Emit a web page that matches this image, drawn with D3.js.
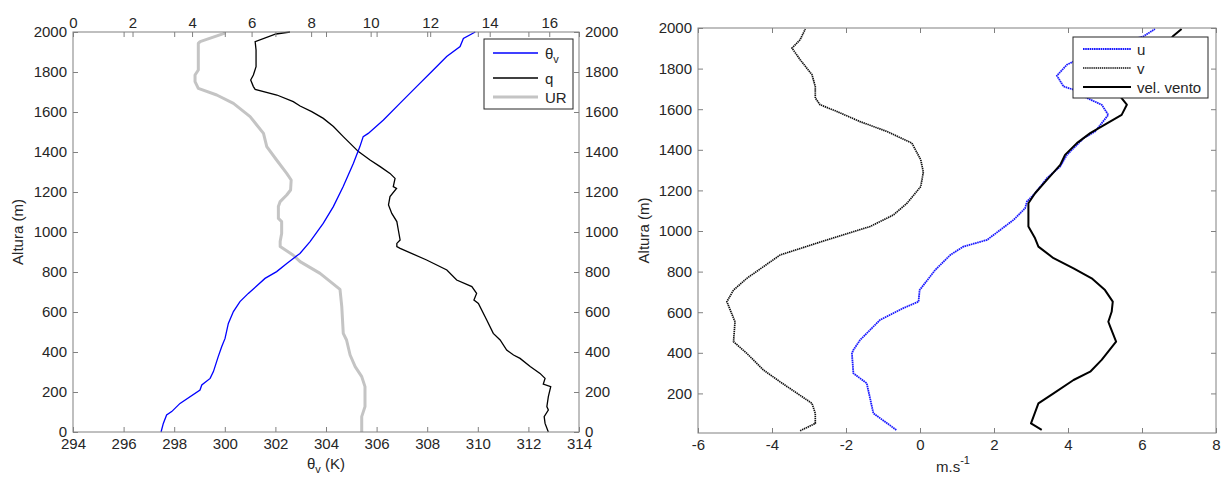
<!DOCTYPE html>
<html>
<head>
<meta charset="utf-8">
<script src="https://cdn.jsdelivr.net/npm/d3@7"></script>
<style>
  body { margin: 0; background: #fff; }
  svg { display: block; font-family: "Liberation Sans", Arial, sans-serif; }
  .tick text { fill: #262626; font-size: 15px; }
  .tick line { stroke: #808080; }
</style>
</head>
<body>
<svg id="chart" width="1221" height="477"></svg>
<script>
// [altitude m, value]
const thetaV = [[0,297.48],[43,297.57],[85,297.70],[102,297.90],[143,298.23],[210,299.02],[235,299.09],[268,299.42],[302,299.55],[377,299.74],[427,299.88],[468,300.01],[543,300.14],[602,300.34],[652,300.60],[693,300.93],[768,301.59],[802,302.05],[843,302.45],[893,302.97],[952,303.37],[1043,303.89],[1127,304.29],[1227,304.68],[1343,305.08],[1427,305.34],[1477,305.47],[1493,305.67],[1560,306.27],[1643,306.92],[1727,307.58],[1810,308.24],[1877,308.77],[1927,309.30],[1968,309.43],[2000,309.9]];
const q = [[0,15.97],[43,15.86],[77,15.83],[110,15.97],[127,15.92],[177,15.97],[227,16.05],[240,15.80],[268,15.86],[293,15.69],[327,15.36],[368,15.02],[385,14.80],[410,14.57],[460,14.35],[493,14.12],[560,13.90],[643,13.62],[660,13.47],[693,13.56],[727,13.40],[760,12.89],[810,12.56],[860,11.88],[918,10.99],[927,10.88],[943,10.88],[960,10.99],[1010,10.93],[1052,10.88],[1093,10.71],[1135,10.60],[1177,10.65],[1218,10.87],[1227,10.76],[1268,10.82],[1293,10.65],[1327,10.32],[1360,9.98],[1402,9.59],[1443,9.31],[1477,9.08],[1527,8.75],[1568,8.41],[1602,8.02],[1630,7.63],[1652,7.40],[1685,6.85],[1713,6.12],[1727,6.06],[1760,5.97],[1785,6.06],[1827,6.15],[1910,6.15],[1952,6.12],[1990,6.82],[2000,7.29]];
const ur = [[0,9.70],[77,9.70],[127,9.81],[227,9.81],[277,9.70],[327,9.48],[385,9.31],[460,9.19],[493,9.08],[627,9.03],[713,8.97],[793,8.30],[852,7.63],[885,7.39],[927,6.96],[952,6.96],[993,7.01],[1052,7.01],[1068,6.90],[1127,6.90],[1152,6.96],[1185,7.18],[1210,7.31],[1260,7.33],[1293,7.18],[1360,6.84],[1427,6.51],[1493,6.40],[1577,5.95],[1643,5.39],[1685,4.83],[1718,4.21],[1752,4.10],[1785,4.10],[1810,4.21],[1943,4.21],[1952,4.27],[1993,5.08],[2000,5.08]];

const uWind = [[20,-0.64],[102,-1.26],[250,-1.44],[299,-1.80],[397,-1.84],[414,-1.80],[463,-1.62],[562,-1.08],[620,-0.45],[652,-0.04],[709,-0.01],[808,0.41],[882,0.82],[923,1.17],[956,1.81],[1055,2.53],[1112,2.84],[1145,2.89],[1186,3.11],[1260,3.43],[1318,3.79],[1375,3.97],[1457,4.42],[1490,4.73],[1572,5.09],[1622,4.91],[1655,4.51],[1696,4.15],[1712,3.88],[1765,3.70],[1819,3.97],[1835,4.15],[1880,4.8],[1930,5.5],[1959,6.04],[1995,6.35]];
const vWind = [[16,-3.24],[52,-2.83],[102,-2.83],[151,-2.92],[257,-3.78],[315,-4.23],[397,-4.68],[455,-5.04],[553,-5.0],[652,-5.22],[709,-5.04],[767,-4.68],[882,-3.78],[956,-2.52],[1022,-1.35],[1079,-0.72],[1137,-0.35],[1219,0.02],[1290,0.09],[1351,0.02],[1433,-0.22],[1490,-0.89],[1539,-1.62],[1589,-2.25],[1622,-2.70],[1655,-2.83],[1712,-2.83],[1770,-2.92],[1844,-3.24],[1901,-3.46],[1942,-3.24],[1995,-3.10]];
const speed = [[20,3.29],[52,3.00],[151,3.20],[200,3.61],[266,4.15],[307,4.60],[365,4.91],[455,5.30],[529,5.14],[553,5.09],[602,5.18],[652,5.21],[709,5.00],[767,4.64],[816,4.15],[866,3.61],[923,3.20],[964,3.11],[1022,2.93],[1137,2.93],[1186,3.11],[1252,3.43],[1326,3.79],[1375,3.92],[1433,4.24],[1482,4.60],[1572,5.45],[1622,5.59],[1663,5.41],[1750,5.9],[1850,6.35],[1962,6.85],[1995,7.07]];

const altTicks = d3.range(0, 2001, 200);
const altTicksR = d3.range(200, 2001, 200);
const thetaTicks = d3.range(294, 315, 2);
const qTicks = d3.range(0, 17, 2);
const windTicks = d3.range(-6, 9, 2);

const leftLegend = ["θv", "q", "UR"];
const rightLegend = ["u", "v", "vel. vento"];

const svg = d3.select("#chart");
svg.append("rect").attr("width", 1221).attr("height", 477).attr("fill", "#fff");

const axisColor = "#808080";
const tick = 5;
const fmt = d => String(d); // plain hyphen minus, like the original

function styleAxis(g) {
  g.select(".domain").remove();
  g.selectAll(".tick line").attr("stroke", axisColor);
}

// ---------- left panel ----------
const L = {x0: 73, x1: 579, y0: 32, y1: 432};
const yL = d3.scaleLinear().domain([0, 2000]).range([L.y1, L.y0]);
const xTheta = d3.scaleLinear().domain([294, 314]).range([L.x0, L.x1]);
const xQ = d3.scaleLinear().domain([0, 17]).range([L.x0, L.x1]);

const gl = svg.append("g");

// lines first, box & ticks on top
const lineL = (xs) => d3.line().x(d => xs(d[1])).y(d => yL(d[0]));
gl.append("path").datum(ur).attr("d", lineL(xQ)).attr("fill", "none")
  .attr("stroke", "#c4c4c4").attr("stroke-width", 3).attr("stroke-linejoin", "round");
gl.append("path").datum(q).attr("d", lineL(xQ)).attr("fill", "none")
  .attr("stroke", "#000").attr("stroke-width", 1.3);
gl.append("path").datum(thetaV).attr("d", lineL(xTheta)).attr("fill", "none")
  .attr("stroke", "#0000ff").attr("stroke-width", 1.3);

gl.append("rect").attr("x", L.x0).attr("y", L.y0).attr("width", L.x1 - L.x0).attr("height", L.y1 - L.y0)
  .attr("fill", "none").attr("stroke", axisColor);

gl.append("g").attr("transform", `translate(0,${L.y1})`)
  .call(d3.axisBottom(xTheta).tickValues(thetaTicks).tickFormat(fmt).tickSizeInner(-tick).tickSizeOuter(0).tickPadding(6))
  .call(styleAxis);
// mirrored theta ticks at the top (no labels)
gl.append("g").attr("transform", `translate(0,${L.y0})`)
  .call(d3.axisBottom(xTheta).tickValues(thetaTicks).tickFormat("").tickSizeInner(tick).tickSizeOuter(0))
  .call(styleAxis);
gl.append("g").attr("transform", `translate(0,${L.y0})`)
  .call(d3.axisTop(xQ).tickValues(qTicks).tickFormat(fmt).tickSizeInner(-tick).tickSizeOuter(0).tickPadding(4))
  .call(styleAxis);
gl.append("g").attr("transform", `translate(${L.x0},0)`)
  .call(d3.axisLeft(yL).tickValues(altTicks).tickFormat(fmt).tickSizeInner(-tick).tickSizeOuter(0).tickPadding(6))
  .call(styleAxis);
gl.append("g").attr("transform", `translate(${L.x1},0)`)
  .call(d3.axisRight(yL).tickValues(altTicks).tickFormat(fmt).tickSizeInner(-tick).tickSizeOuter(0).tickPadding(6))
  .call(styleAxis);

gl.append("text").attr("transform", `translate(23,${(L.y0 + L.y1) / 2}) rotate(-90)`)
  .attr("text-anchor", "middle").attr("font-size", 15).attr("fill", "#262626").text("Altura (m)");
const xl = gl.append("text").attr("x", (L.x0 + L.x1) / 2).attr("y", 469)
  .attr("text-anchor", "middle").attr("font-size", 15).attr("fill", "#262626");
xl.append("tspan").text("θ");
xl.append("tspan").attr("font-size", 11).attr("dy", 4).text("v");
xl.append("tspan").attr("dy", -4).text(" (K)");

// legend left
const lgL = gl.append("g");
lgL.append("rect").attr("x", 484).attr("y", 39).attr("width", 89).attr("height", 70)
  .attr("fill", "#fff").attr("stroke", "#262626").attr("stroke-width", 1);
const lgLy = [53, 78, 97];
const lgLstyle = [
  {stroke: "#0000ff", w: 1.3},
  {stroke: "#000", w: 1.3},
  {stroke: "#c4c4c4", w: 3}
];
leftLegend.forEach((name, i) => {
  lgL.append("line").attr("x1", 493).attr("x2", 538).attr("y1", lgLy[i]).attr("y2", lgLy[i])
    .attr("stroke", lgLstyle[i].stroke).attr("stroke-width", lgLstyle[i].w);
  const t = lgL.append("text").attr("x", 545).attr("y", lgLy[i] + 5.5)
    .attr("font-size", 15).attr("fill", "#262626");
  if (name === "θv") {
    t.append("tspan").text("θ");
    t.append("tspan").attr("font-size", 11).attr("dy", 4).text("v");
  } else t.text(name);
});

// ---------- right panel ----------
const R = {x0: 698, x1: 1216, y0: 28, y1: 433};
const yR = d3.scaleLinear().domain([5, 2000]).range([R.y1, R.y0]);
const xW = d3.scaleLinear().domain([-6, 8]).range([R.x0, R.x1]);
const gr = svg.append("g");
const lineR = d3.line().x(d => xW(d[1])).y(d => yR(d[0]));

gr.append("path").datum(vWind).attr("d", lineR).attr("fill", "none")
  .attr("stroke", "#111").attr("stroke-width", 1.7).attr("stroke-dasharray", "1.4,0.7");
gr.append("path").datum(uWind).attr("d", lineR).attr("fill", "none")
  .attr("stroke", "#1a1aff").attr("stroke-width", 1.8).attr("stroke-dasharray", "1.6,0.6");
gr.append("path").datum(speed).attr("d", lineR).attr("fill", "none")
  .attr("stroke", "#000").attr("stroke-width", 2).attr("stroke-linejoin", "round");

gr.append("rect").attr("x", R.x0).attr("y", R.y0).attr("width", R.x1 - R.x0).attr("height", R.y1 - R.y0)
  .attr("fill", "none").attr("stroke", axisColor);

gr.append("g").attr("transform", `translate(0,${R.y1})`)
  .call(d3.axisBottom(xW).tickValues(windTicks).tickFormat(fmt).tickSizeInner(-tick).tickSizeOuter(0).tickPadding(6))
  .call(styleAxis);
gr.append("g").attr("transform", `translate(0,${R.y0})`)
  .call(d3.axisBottom(xW).tickValues(windTicks).tickFormat("").tickSizeInner(tick).tickSizeOuter(0))
  .call(styleAxis);
gr.append("g").attr("transform", `translate(${R.x0},0)`)
  .call(d3.axisLeft(yR).tickValues(altTicksR).tickFormat(fmt).tickSizeInner(-tick).tickSizeOuter(0).tickPadding(6))
  .call(styleAxis);
gr.append("g").attr("transform", `translate(${R.x1},0)`)
  .call(d3.axisLeft(yR).tickValues(altTicksR).tickFormat("").tickSizeInner(tick).tickSizeOuter(0))
  .call(styleAxis);

gr.append("text").attr("transform", `translate(649,${(R.y0 + R.y1) / 2}) rotate(-90)`)
  .attr("text-anchor", "middle").attr("font-size", 15).attr("fill", "#262626").text("Altura (m)");
const xr = gr.append("text").attr("x", (R.x0 + R.x1) / 2 - 4).attr("y", 472)
  .attr("text-anchor", "middle").attr("font-size", 15).attr("fill", "#262626");
xr.append("tspan").text("m.s");
xr.append("tspan").attr("font-size", 11).attr("dy", -8).text("-1");

// legend right
const lgR = gr.append("g");
lgR.append("rect").attr("x", 1073).attr("y", 37).attr("width", 135).attr("height", 61)
  .attr("fill", "#fff").attr("stroke", "#262626").attr("stroke-width", 1);
const lgRy = [49, 68, 87];
const lgRstyle = [
  {stroke: "#1a1aff", w: 1.8, dash: "1.6,0.6"},
  {stroke: "#111", w: 1.7, dash: "1.4,0.7"},
  {stroke: "#000", w: 2, dash: null}
];
rightLegend.forEach((name, i) => {
  lgR.append("line").attr("x1", 1083).attr("x2", 1131).attr("y1", lgRy[i]).attr("y2", lgRy[i])
    .attr("stroke", lgRstyle[i].stroke).attr("stroke-width", lgRstyle[i].w)
    .attr("stroke-dasharray", lgRstyle[i].dash);
  lgR.append("text").attr("x", 1137).attr("y", lgRy[i] + 5.5)
    .attr("font-size", 15).attr("fill", "#262626").text(name);
});
</script>
</body>
</html>
